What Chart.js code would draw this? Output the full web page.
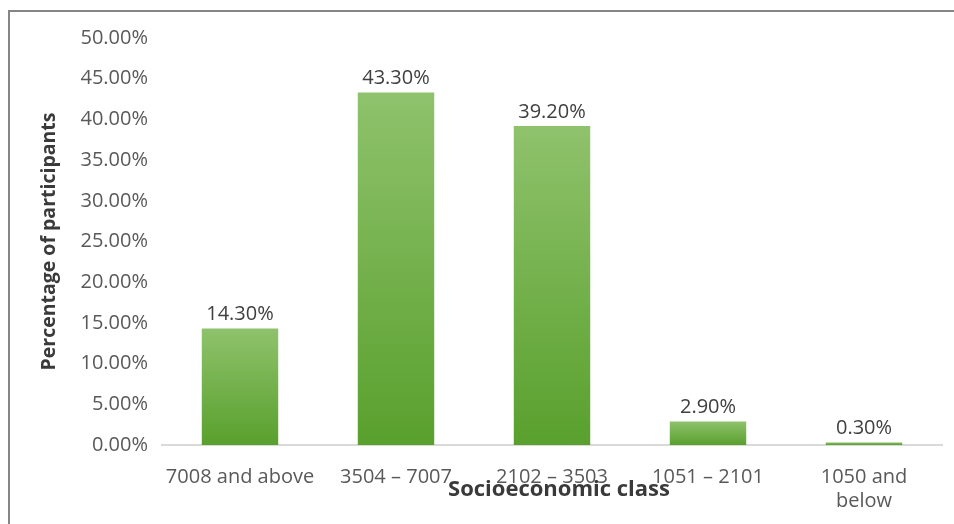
<!DOCTYPE html>
<html>
<head>
<meta charset="utf-8">
<script src="https://cdn.jsdelivr.net/npm/chart.js@4/dist/chart.umd.min.js"></script>
<style>
  body { margin: 0; background: #fff; }
  #wrap { position: absolute; left: 0; top: 0; width: 954px; height: 524px; }
  #frame { position: absolute; left: 8px; top: 10px; width: 1000px; height: 600px;
           border-left: 2px solid #858585; border-top: 2px solid #858585; }
</style>
</head>
<body>
<div id="wrap">
  <div id="frame"></div>
  <canvas id="chart" width="954" height="524"></canvas>
</div>
<script>
const categories = ['7008 and above', '3504 \u2013 7007', '2102 \u2013 3503', '1051 \u2013 2101', ['1050 and', 'below']];
const shares = [14.3, 43.3, 39.2, 2.9, 0.3];
const yTicks = [0, 5, 10, 15, 20, 25, 30, 35, 40, 45, 50];

const FONT = '"Open Sans", sans-serif';
const TEXT = '#595959';

// vertical gradient for each bar, light on top, darker at the base
const barFill = (ctx) => {
    const chart = ctx.chart;
    const area = chart.chartArea;
    if (!area) return '#6aab3e';
    const v = ctx.parsed ? ctx.parsed.y : shares[ctx.dataIndex];
    const top = chart.scales.y.getPixelForValue(v);
    const g = chart.ctx.createLinearGradient(0, Math.min(top, area.bottom - 3), 0, area.bottom);
    g.addColorStop(0, '#8fc26c');
    g.addColorStop(1, '#59a02d');
    return g;
};

const valueLabels = {
    id: 'valueLabels',
    afterDatasetsDraw(chart) {
        const c = chart.ctx;
        const meta = chart.getDatasetMeta(0);
        c.save();
        c.font = '20px ' + FONT;
        c.fillStyle = '#404040';
        c.textAlign = 'center';
        c.textBaseline = 'bottom';
        meta.data.forEach((bar, i) => {
            c.fillText(shares[i].toFixed(2) + '%', bar.x, bar.y - 4);
        });
        // x title sits over the tick labels, as in the original
        c.font = 'bold 22px ' + FONT;
        c.fillStyle = '#3a3a3a';
        c.textBaseline = 'middle';
        const a = chart.chartArea;
        c.fillText('Socioeconomic class', (a.left + a.right) / 2 + 7, 490);
        c.restore();
    }
};

new Chart(document.getElementById('chart'), {
    type: 'bar',
    data: {
        labels: categories,
        datasets: [{
            data: shares,
            backgroundColor: barFill,
            barPercentage: 0.98,
            categoryPercentage: 0.5
        }]
    },
    options: {
        responsive: false,
        animation: false,
        layout: { padding: { top: 38, right: 12, left: 0, bottom: 0 } },
        plugins: { legend: { display: false }, tooltip: { enabled: false } },
        scales: {
            x: {
                grid: { display: false },
                border: { color: '#d9d9d9', width: 2 },
                ticks: { color: TEXT, font: { family: FONT, size: 20 }, padding: 12, maxRotation: 0, autoSkip: false },
                afterFit: (s) => { s.height = 79; }
            },
            y: {
                min: 0,
                max: 50,
                grid: { display: false },
                border: { display: false },
                afterBuildTicks: (s) => { s.ticks = yTicks.map(v => ({ value: v })); },
                ticks: {
                    color: TEXT,
                    font: { family: FONT, size: 20 },
                    padding: 6,
                    callback: (v) => v.toFixed(2) + '%'
                },
                title: {
                    display: true,
                    text: 'Percentage of participants',
                    color: '#3a3a3a',
                    font: { family: FONT, size: 19.5, weight: 'bold' },
                    padding: { top: 38, bottom: 0 }
                },
                afterFit: (s) => { s.width = 162; }
            }
        }
    },
    plugins: [valueLabels]
});
</script>
</body>
</html>
